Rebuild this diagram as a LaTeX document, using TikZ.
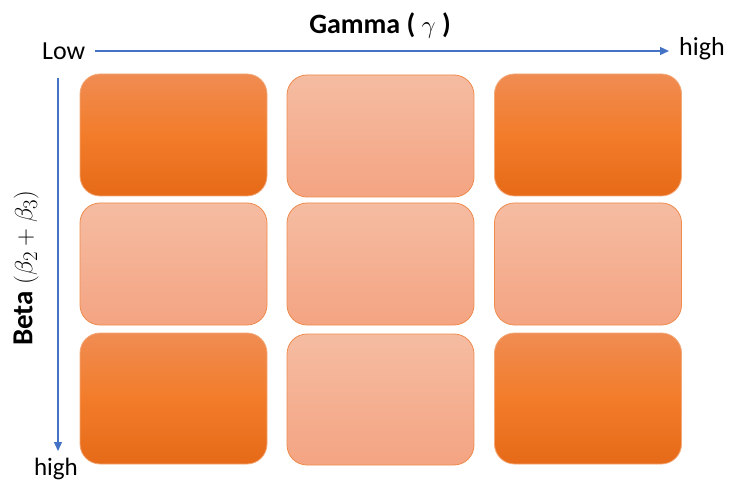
\documentclass[tikz,border=0pt]{standalone}
\usepackage{fontspec}
\setmainfont{Carlito}
\usetikzlibrary{arrows.meta}
\definecolor{axisblue}{HTML}{4472C4}
\definecolor{darktop}{HTML}{F08C52}
\definecolor{darkmid}{HTML}{F27C2A}
\definecolor{darkbot}{HTML}{E66A18}
\definecolor{lighttop}{HTML}{F5BCA2}
\definecolor{lightbot}{HTML}{F4A482}
\definecolor{lightedge}{HTML}{EF8B4C}
\definecolor{darkedge}{HTML}{F3A878}
\tikzset{
  cellbox/.style={rectangle, rounded corners=20pt, minimum width=187pt, inner sep=0pt, line width=0.8pt},
  hotcell/.style={cellbox, draw=darkedge, top color=darktop, bottom color=darkbot, middle color=darkmid},
  coolcell/.style={cellbox, draw=lightedge, top color=lighttop, bottom color=lightbot},
  axisarrow/.style={draw=axisblue, line width=1.2pt, -{Triangle[length=9pt,width=8pt]}},
  axislabel/.style={font=\fontsize{26}{30}\selectfont, inner sep=0pt},
}
\begin{document}
\begin{tikzpicture}[x=1pt,y=-1pt]
\useasboundingbox (0,0) rectangle (729,484);
% top axis
\node[axislabel, anchor=west] (low) at (42,51) {Low};
\node[axislabel, anchor=west] (hightop) at (679,49) {high};
\node[axislabel, font=\fontsize{28}{32}\selectfont\bfseries] (gamma) at (380,26) {Gamma ( $\gamma$ )};
\coordinate (hstart) at (95,51);
\coordinate (hend) at (669,51);
\draw[axisarrow] (hstart) -- (hend);
% left axis
\coordinate (vstart) at (58,78);
\coordinate (vend) at (58,451);
\draw[axisarrow] (vstart) -- (vend);
\node[axislabel, anchor=south, font=\fontsize{25}{29}\selectfont] (highbot) at (56,480) {high};
\node[axislabel, rotate=90, font=\fontsize{29}{33}\selectfont] (beta) at (26,268) {\textbf{Beta} $(\beta_2+\beta_3)$};
% cells
\node[hotcell, minimum height=122pt] (c11) at (173.5,135) {};
\node[coolcell, minimum height=122pt] (c12) at (380.5,136) {};
\node[hotcell, minimum height=122pt] (c13) at (588,135) {};
\node[coolcell, minimum height=122pt] (c21) at (173.5,264) {};
\node[coolcell, minimum height=122pt] (c22) at (380.5,264) {};
\node[coolcell, minimum height=122pt] (c23) at (588,264) {};
\node[hotcell, minimum height=131pt] (c31) at (173.5,398.5) {};
\node[coolcell, minimum height=131pt] (c32) at (380.5,399.5) {};
\node[hotcell, minimum height=131pt] (c33) at (588,398.5) {};
\end{tikzpicture}
\end{document}
